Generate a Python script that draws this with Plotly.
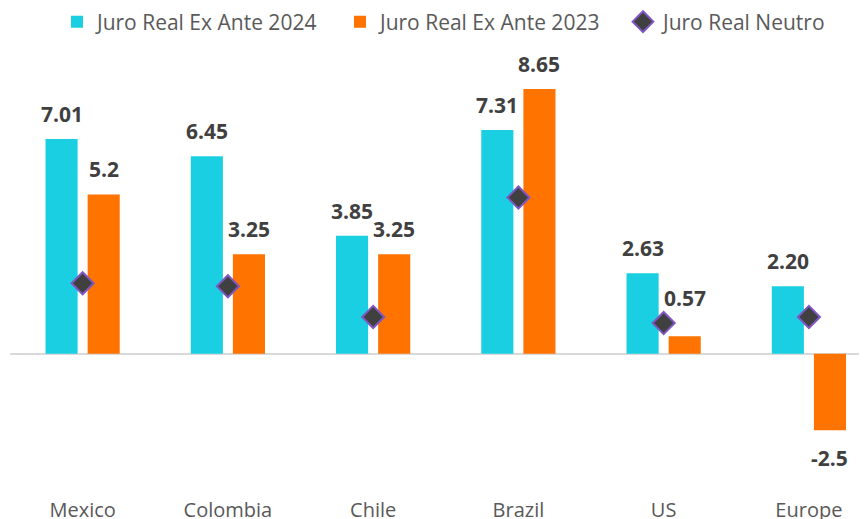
import plotly.graph_objects as go

categories = ["Mexico", "Colombia", "Chile", "Brazil", "US", "Europe"]
ex_ante_2024 = [7.01, 6.45, 3.85, 7.31, 2.63, 2.20]
ex_ante_2023 = [5.2, 3.25, 3.25, 8.65, 0.57, -2.5]
neutro = [2.3, 2.2, 1.2, 5.1, 1.0, 1.2]
labels_2024 = ["7.01", "6.45", "3.85", "7.31", "2.63", "2.20"]
labels_2023 = ["5.2", "3.25", "3.25", "8.65", "0.57", "-2.5"]

CYAN = "#1ACFE2"
ORANGE = "#FF7300"
FONT = "Open Sans"

fig = go.Figure()
fig.add_trace(go.Bar(x=categories, y=ex_ante_2024, name="Juro Real Ex Ante 2024",
                     marker=dict(color=CYAN, line=dict(width=0))))
fig.add_trace(go.Bar(x=categories, y=ex_ante_2023, name="Juro Real Ex Ante 2023",
                     marker=dict(color=ORANGE, line=dict(width=0))))
fig.add_trace(go.Scatter(x=categories, y=neutro, name="Juro Real Neutro", mode="markers",
                         marker=dict(symbol="diamond", size=17, color="#404040",
                                     line=dict(color="#7E57C2", width=2))))

annotations = []
for i, c in enumerate(categories):
    annotations.append(dict(x=c, y=ex_ante_2024[i], text=labels_2024[i], xref="x", yref="y",
                            showarrow=False, xshift=-21, yshift=25,
                            font=dict(family=FONT, size=21, color="#404040", weight="bold")))
    v = ex_ante_2023[i]
    ys = 25 if v >= 0 else -28
    if labels_2023[i] == "0.57":
        ys = 38
    annotations.append(dict(x=c, y=v, text=labels_2023[i], xref="x", yref="y",
                            showarrow=False, xshift=21, yshift=ys,
                            font=dict(family=FONT, size=21, color="#404040", weight="bold")))

fig.update_layout(
    width=867, height=519,
    margin=dict(l=2, r=8, t=42, b=31),
    paper_bgcolor="white", plot_bgcolor="white",
    barmode="group", bargap=0.42, bargroupgap=0.238,
    font=dict(family=FONT, color="#595959"),
    showlegend=True,
    legend=dict(orientation="h", xref="container", yref="container",
                x=49 / 867, xanchor="left", y=1 - 14 / 519, yanchor="middle",
                entrywidth=238, entrywidthmode="pixels",
                font=dict(family=FONT, size=21, color="#595959"), bgcolor="rgba(0,0,0,0)"),
    annotations=annotations,
)
fig.update_xaxes(range=[-0.5, 5.4], showgrid=False, showline=False, ticks="", automargin=False,
                 tickfont=dict(family=FONT, size=20, color="#595959"))
fig.update_yaxes(range=[-4.65, 9.92], showgrid=False, showticklabels=False, automargin=False,
                 zeroline=True, zerolinecolor="#D9D9D9", zerolinewidth=2)

fig.write_html("out.html")
